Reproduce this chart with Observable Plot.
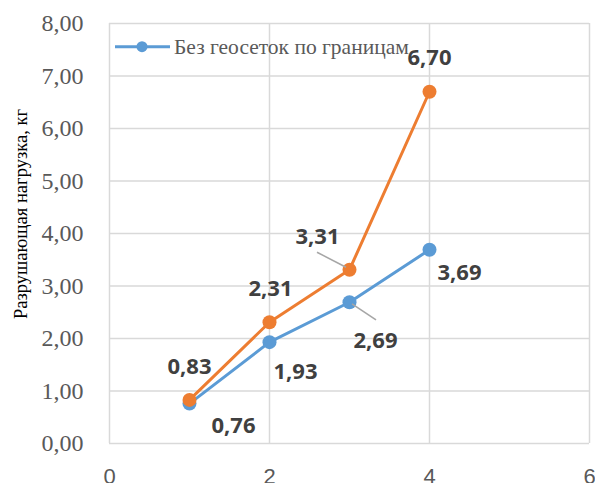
<!DOCTYPE html>
<html><head><meta charset="utf-8">
<script src="https://cdn.jsdelivr.net/npm/d3@7"></script>
<script src="https://cdn.jsdelivr.net/npm/@observablehq/plot@0.6"></script>
<style>
body{margin:0;background:#fff;}
#chart svg{display:block;}
</style>
</head><body><div id="chart"></div>
<script>
// ---- data ----
const xValues = [1, 2, 3, 4];
const blueValues = [0.76, 1.93, 2.69, 3.69];
const orangeValues = [0.83, 2.31, 3.31, 6.70];
const seriesNames = ["Без геосеток по границам", "С геосетками по границам"];
const yTicks = [0, 1, 2, 3, 4, 5, 6, 7, 8];
const xTicks = [0, 2, 4, 6];
const yTitle = "Разрушающая нагрузка, кг";

// ---- styling config (label offsets in px) ----
const blueLabelOffsets = [[44, 22], [26, 30], [26, 39], [30, 23]];
const orangeLabelOffsets = [[0, -33], [1, -33], [-32, -33], [0, -34]];
const colors = ["#5B9BD5", "#ED7D31"];

const fmt = v => v.toFixed(2).replace(".", ",");
const rows = [];
xValues.forEach((x, i) => {
  rows.push({x, y: blueValues[i], s: 0, dx: blueLabelOffsets[i][0], dy: blueLabelOffsets[i][1]});
});
xValues.forEach((x, i) => {
  rows.push({x, y: orangeValues[i], s: 1, dx: orangeLabelOffsets[i][0], dy: orangeLabelOffsets[i][1]});
});

const labelMarks = rows.map(r => Plot.text([r], {
  x: "x", y: "y", text: d => fmt(d.y), dx: r.dx, dy: r.dy,
  fontFamily: "Open Sans", fontWeight: "bold", fontSize: 22, fill: "#404040"
}));

const svgNS = "http://www.w3.org/2000/svg";
function el(name, attrs, text) {
  const e = document.createElementNS(svgNS, name);
  for (const k in attrs) e.setAttribute(k, attrs[k]);
  if (text != null) e.textContent = text;
  return e;
}

// leader lines + legend + y title using Plot's scales
const extras = (index, scales, values, dimensions) => {
  const sx = scales.x, sy = scales.y;
  const g = el("g", {});
  // leader for orange 3,31
  const ox = sx(xValues[2]), oy = sy(orangeValues[2]);
  g.appendChild(el("line", {x1: ox - 32, y1: oy - 17, x2: ox - 3, y2: oy - 2, stroke: "#a6a6a6", "stroke-width": 1.5}));
  // leader for blue 2,69
  const bx = sx(xValues[2]), by = sy(blueValues[2]);
  g.appendChild(el("line", {x1: bx + 3, y1: by + 2, x2: bx + 27, y2: by + 18, stroke: "#a6a6a6", "stroke-width": 1.5}));
  // legend
  const ly = 46.7;
  g.appendChild(el("line", {x1: 115, y1: ly, x2: 170, y2: ly, stroke: colors[0], "stroke-width": 3}));
  g.appendChild(el("circle", {cx: 142, cy: ly, r: 5.5, fill: colors[0]}));
  g.appendChild(el("text", {x: 174, y: ly, dy: "0.33em", "text-anchor": "start", "font-family": "Liberation Serif", "font-size": 21.5, fill: "#595959"}, seriesNames[0]));
  // y title
  const cy = 214;
  g.appendChild(el("text", {transform: `translate(21,${cy}) rotate(-90)`, "text-anchor": "middle", dy: "0.35em", "font-family": "Liberation Serif", "font-size": 18.5, fill: "#000"}, yTitle));
  return g;
};

const plot = Plot.plot({
  width: 595, height: 483,
  marginLeft: 109, marginRight: 6, marginTop: 23, marginBottom: 40,
  style: {background: "#fff", overflow: "hidden"},
  x: {domain: [0, 6]},
  y: {domain: [0, 8]},
  marks: [
    Plot.gridY(yTicks, {stroke: "#d9d9d9", strokeOpacity: 1, strokeWidth: 1.5}),
    Plot.gridX(xTicks, {stroke: "#d9d9d9", strokeOpacity: 1, strokeWidth: 1.5}),
    Plot.axisY(yTicks, {tickSize: 0, tickPadding: 26, tickFormat: fmt, label: null,
      fontSize: 24, fontFamily: "Liberation Serif", fill: "#595959"}),
    Plot.axisX(xTicks, {tickSize: 0, tickPadding: 25, label: null,
      fontSize: 22, fontFamily: "Liberation Sans", fill: "#595959"}),
    Plot.line(xValues, {x: d => d, y: (d, i) => blueValues[i], stroke: colors[0], strokeWidth: 3}),
    Plot.line(xValues, {x: d => d, y: (d, i) => orangeValues[i], stroke: colors[1], strokeWidth: 3}),
    Plot.dot(xValues, {x: d => d, y: (d, i) => blueValues[i], r: 7, fill: colors[0], stroke: "none"}),
    Plot.dot(xValues, {x: d => d, y: (d, i) => orangeValues[i], r: 7, fill: colors[1], stroke: "none"}),
    ...labelMarks,
    extras
  ]
});
document.getElementById("chart").appendChild(plot);
</script>
</body></html>
